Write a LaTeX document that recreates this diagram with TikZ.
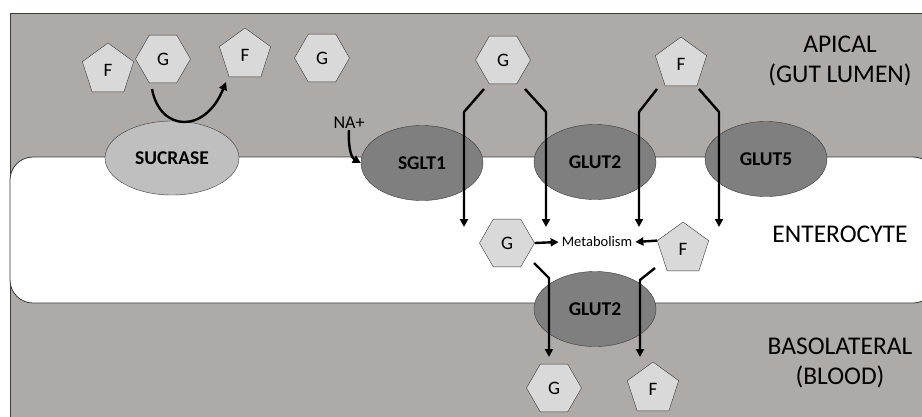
\documentclass[tikz,border=0pt]{standalone}
\usepackage{fontspec}
\setmainfont{Carlito}
\usetikzlibrary{shapes.geometric,arrows.meta}
\definecolor{lumen}{HTML}{AEAAA8}
\definecolor{sugar}{HTML}{D9D9D9}
\definecolor{enzyme}{HTML}{BFBFBF}
\definecolor{carrier}{HTML}{7F7F7F}
\definecolor{edge}{HTML}{3A3A3A}
\tikzset{
  hexa/.style={regular polygon, regular polygon sides=6, minimum size=55pt, inner sep=0pt,
    draw=edge, fill=sugar, font=\fontsize{19}{19}\selectfont},
  penta/.style={regular polygon, regular polygon sides=5, minimum size=54pt, inner sep=0pt,
    draw=edge, fill=sugar, font=\fontsize{19}{19}\selectfont},
  prot/.style={ellipse, draw=edge, inner sep=0pt, minimum width=122pt, minimum height=75pt,
    fill=carrier, font=\fontsize{19.5}{19.5}\selectfont\bfseries},
  flow/.style={line width=2.4pt, -{Triangle[length=8pt,width=8pt]}},
  region/.style={font=\fontsize{25.5}{30}\selectfont, align=center},
}

\begin{document}
\begin{tikzpicture}[x=1pt,y=-1pt]
      \clip (0,0) rectangle (922,416);
      \draw[edge, fill=lumen, line width=0.8pt] (10,13) rectangle (940,430);
      \draw[edge, fill=white, line width=0.8pt, rounded corners=23pt] (10,157) rectangle (936,303);

      \node[prot, fill=enzyme, minimum width=134pt, minimum height=74pt] (suc) at (172,158) {SUCRASE};
      \node[prot] (sglt) at (422,163) {SGLT1};
      \node[prot] (glut2a) at (595,162) {GLUT2};
      \node[prot] (glut5) at (766,159) {GLUT5};
      \node[prot] (glut2b) at (595,309) {GLUT2};

      \node[penta] (f1) at (108,70) {F};
      \node[hexa] (g1) at (163,59) {G};
      \node[penta] (f2) at (245,55) {F};
      \node[hexa] (g2) at (322,58) {G};
      \node[hexa] (g3) at (503,60) {G};
      \node[penta] (f3) at (681,64) {F};
      \node[hexa] (g4) at (507,243) {G};
      \node[penta] (f4) at (683,249) {F};
      \node[hexa] (g5) at (554,388) {G};
      \node[penta] (f5) at (653,389) {F};

      \node[font=\fontsize{14.5}{14.5}\selectfont, inner sep=3pt] (met) at (597,242) {Metabolism};
      \node[font=\fontsize{18}{18}\selectfont, inner sep=1pt] (na) at (349,123) {NA+};

      \node[region] (apical) at (840,61) {APICAL\\(GUT LUMEN)};
      \node[region] (entero) at (840,234) {ENTEROCYTE};
      \node[region] (baso) at (840,363) {BASOLATERAL\\(BLOOD)};

      \coordinate (cut) at (152,89);
      \coordinate (free) at (226,82);
      \coordinate (ga) at (484,89);
      \coordinate (gb) at (525,89);
      \coordinate (fa) at (657,89);
      \coordinate (fb) at (699,89);
      \coordinate (gc) at (534,263);
      \coordinate (fc) at (655,268);

      \draw[flow] (cut) .. controls (160,132) and (205,134) .. (free);
      \draw[flow] (na.south) .. controls (348,150) and (352,158) .. (sglt.west);
      \draw[flow] (ga) -- ++(-20,23) -- ++(0,115);
      \draw[flow] (gb) -- ++(21,23) -- ++(0,115);
      \draw[flow] (fa) -- ++(-18,23) -- ++(0,115);
      \draw[flow] (fb) -- ++(20,23) -- ++(0,115);
      \draw[flow] (g4.east) -- (met.west);
      \draw[flow] (f4.corner 2) -- (met.east);
      \draw[flow] (gc) -- ++(15,15) -- ++(0,79);
      \draw[flow] (fc) -- ++(-15,12) -- ++(0,77);
\end{tikzpicture}
\end{document}
